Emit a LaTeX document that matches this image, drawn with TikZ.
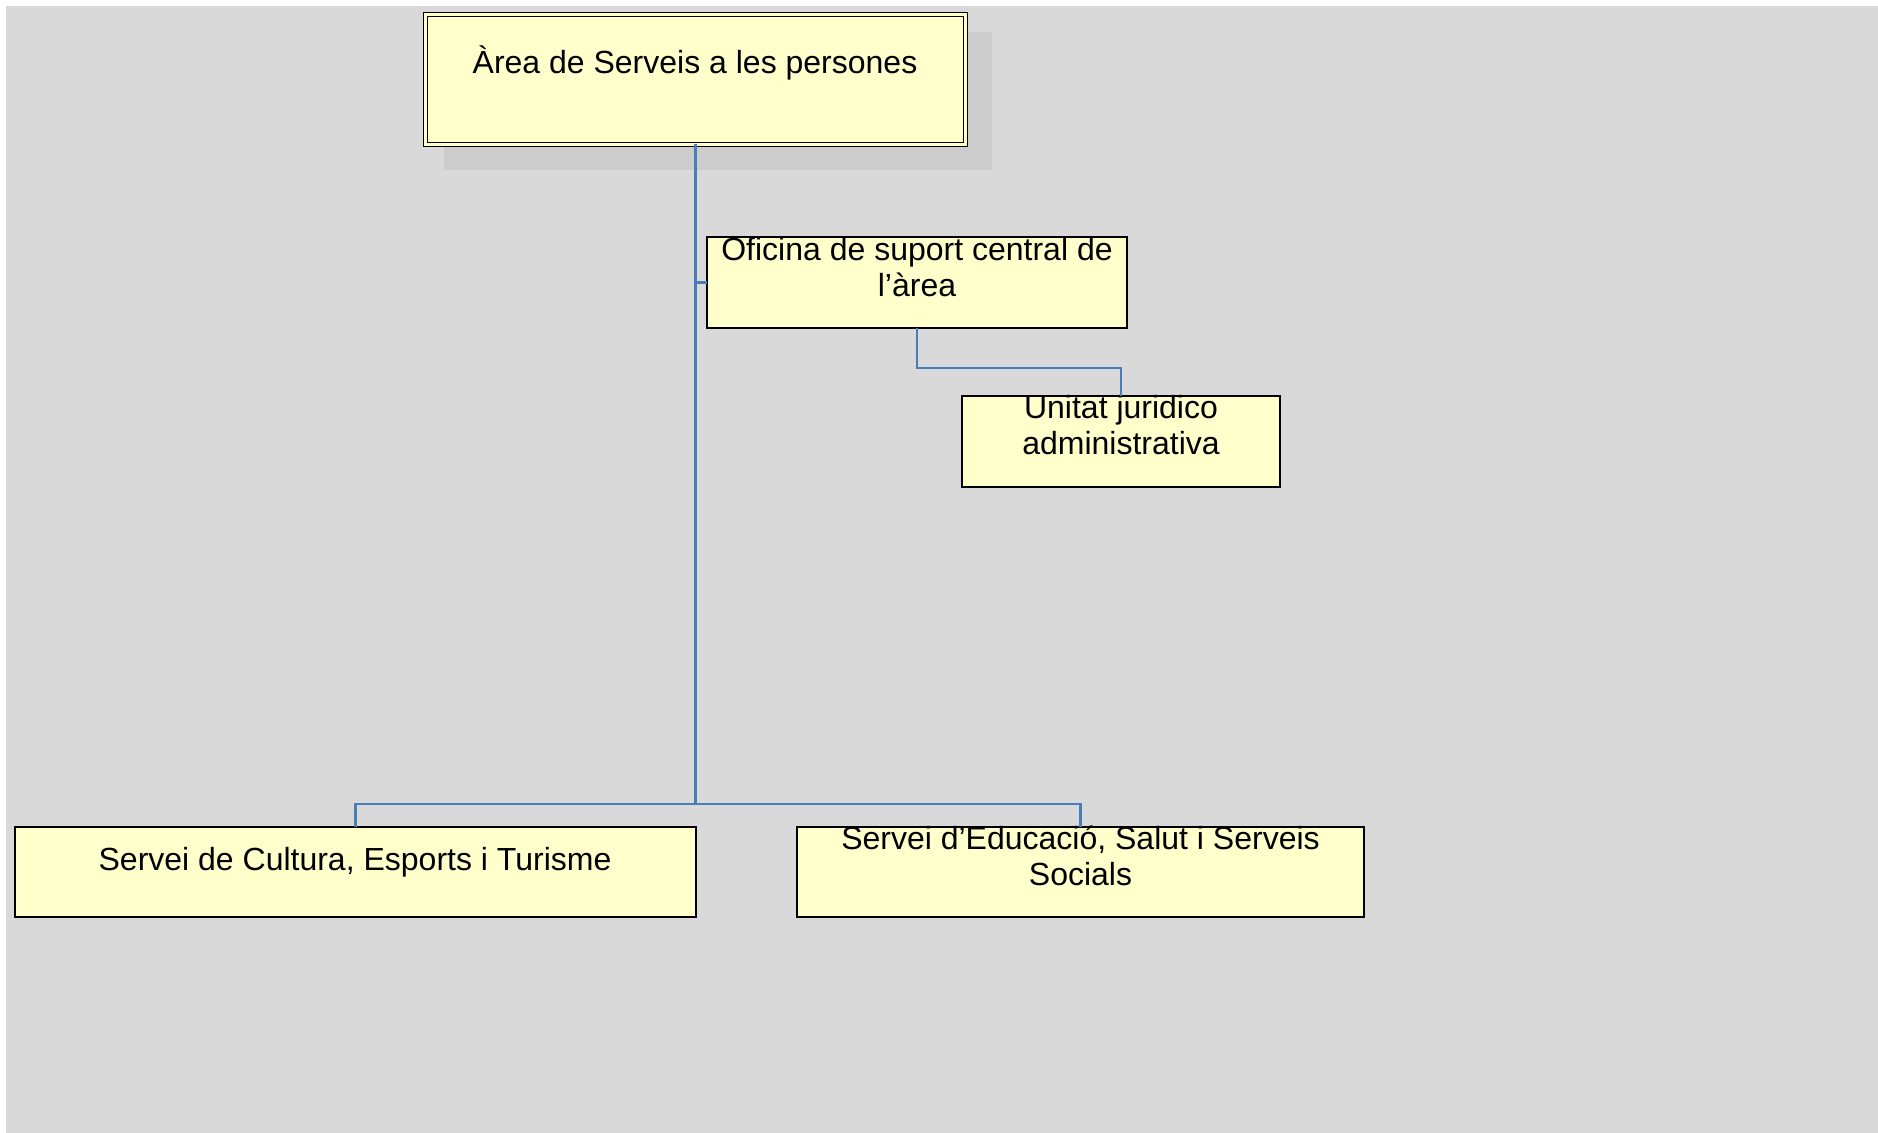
\documentclass[tikz,border=0pt]{standalone}
\usepackage{fontspec}
\setmainfont{Liberation Sans}
\usetikzlibrary{calc}
\definecolor{bgc}{HTML}{D9D9D9}
\definecolor{shadowc}{HTML}{CCCCCC}
\definecolor{boxc}{HTML}{FFFFCC}
\definecolor{connc}{HTML}{4A7EBB}
\tikzset{
  orgbox/.style={draw=black, fill=boxc, line width=1pt, rectangle, inner sep=0pt, outer sep=0pt},
  topbox/.style={draw=black, double=boxc, double distance=1.2pt, line width=0.7pt, fill=boxc, rectangle, inner sep=0pt, outer sep=0pt},
  lbl/.style={inner sep=0pt, anchor=base, font=\fontsize{16}{18}\selectfont},
  conn/.style={draw=connc, line width=1.1pt}
}
\begin{document}
\begin{tikzpicture}[x=0.5pt,y=-0.5pt]
\useasboundingbox (0,0) rectangle (1878,1133);
\fill[white] (0,0) rectangle (1878,1133);
\fill[bgc] (6,6) rectangle (1878,1133);
% shadow of top box
\fill[shadowc] (444,32) rectangle (992,170);
% boxes
\node[topbox, minimum width=269.9pt, minimum height=64.9pt] (area) at (695.5,79.5) {};
\node[orgbox, minimum width=210pt, minimum height=45.5pt] (ofi) at (917,282.5) {};
\node[orgbox, minimum width=159pt, minimum height=45.5pt] (uni) at (1121,441.5) {};
\node[orgbox, minimum width=340.5pt, minimum height=45pt] (cult) at (355.5,872) {};
\node[orgbox, minimum width=283.5pt, minimum height=45pt] (edu) at (1080.5,872) {};
% labels
\node[lbl] (tarea) at (695,74) {Àrea de Serveis a les persones};
\node[lbl] (tofi) at (917,261) {\begin{tabular}[t]{@{}c@{}}Oficina de suport central de\\ l’àrea\end{tabular}};
\node[lbl] (tuni) at (1121,419) {\begin{tabular}[t]{@{}c@{}}Unitat juridico\\ administrativa\end{tabular}};
\node[lbl] (tcult) at (355,870) {Servei de Cultura, Esports i Turisme};
\node[lbl] (tedu) at (1080.5,849) {\begin{tabular}[t]{@{}c@{}}Servei d’Educació, Salut i Serveis\\ Socials\end{tabular}};
% connectors
\coordinate (bus) at (area.south |- 0,804);
\draw[conn] (area.south) -- (bus);
\draw[conn] (cult.north) |- (bus) -| (edu.north);
\draw[conn] (ofi.west) -- (ofi.west -| area.south);
\draw[conn] (ofi.south) -- ++(0,40) -| (uni.north);
\end{tikzpicture}
\end{document}
